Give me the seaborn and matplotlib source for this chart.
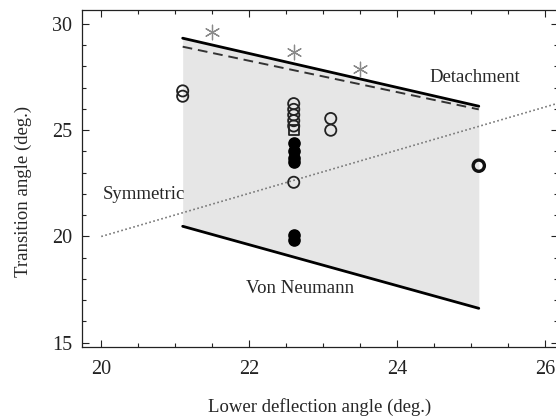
import matplotlib
matplotlib.use("Agg")
import matplotlib.pyplot as plt
import seaborn as sns
import numpy as np
import pandas as pd
from matplotlib.ticker import MultipleLocator

sns.set_theme(style="ticks")
plt.rcParams['font.family'] = ['Liberation Serif', 'DejaVu Serif']

# Boundary lines (x endpoints, y endpoints)
region_x = [21.1, 25.1]
detach_y = [29.33, 26.13]
detach_dash_y = [28.93, 25.98]
vonneumann_y = [20.48, 16.62]
sym_x = [20.0, 26.2]
sym_y = [20.0, 26.3]

# Star (asterisk) points
star_x = [21.5, 22.6, 23.5]
star_y = [29.6, 28.66, 27.86]

# Open circles
open_x = [21.1, 21.1, 22.6, 22.6, 22.6, 22.6, 22.6, 22.6, 23.1, 23.1]
open_y = [26.85, 26.6, 26.25, 25.98, 25.72, 25.45, 25.2, 22.55, 25.55, 25.0]
# Open square
sq_x = [22.6]
sq_y = [25.02]
# Bold open circle
bold_x = [25.1]
bold_y = [23.33]
# Filled circles
fill_x = [22.6, 22.6, 22.6, 22.6, 22.6, 22.6]
fill_y = [24.4, 24.0, 23.7, 23.5, 20.05, 19.82]

fig = plt.figure(figsize=(5.56, 4.16), dpi=100)
ax = fig.add_axes([82/556, 69/416, 476/556, 337.5/416])

ax.fill_between(region_x, vonneumann_y, detach_y, color="#e6e6e6", linewidth=0, zorder=0)

sns.lineplot(x=region_x, y=detach_y, ax=ax, color="black", linewidth=2.0, zorder=2)
sns.lineplot(x=region_x, y=detach_dash_y, ax=ax, color="#333333", linewidth=1.4,
             linestyle=(0, (5, 3)), zorder=2)
sns.lineplot(x=region_x, y=vonneumann_y, ax=ax, color="black", linewidth=2.0, zorder=2)
sns.lineplot(x=sym_x, y=sym_y, ax=ax, color="#777777", linewidth=1.2,
             linestyle=(0, (1, 1.5)), zorder=1)

sns.scatterplot(x=star_x, y=star_y, ax=ax, marker=(6, 2, 0), s=110,
                color="#8a8a8a", edgecolor="#8a8a8a", linewidth=0.9, zorder=3)
sns.scatterplot(x=open_x, y=open_y, ax=ax, marker="o", s=65,
                facecolor="none", edgecolor="#222222", linewidth=1.3, zorder=3)
sns.scatterplot(x=sq_x, y=sq_y, ax=ax, marker="s", s=55,
                facecolor="none", edgecolor="#222222", linewidth=1.3, zorder=3)
sns.scatterplot(x=bold_x, y=bold_y, ax=ax, marker="o", s=65,
                facecolor="none", edgecolor="#111111", linewidth=2.4, zorder=3)
sns.scatterplot(x=fill_x, y=fill_y, ax=ax, marker="o", s=65,
                color="black", edgecolor="black", linewidth=1.0, zorder=4)

fs = 13.5
ax.text(25.05, 27.5, "Detachment", ha="center", va="center", fontsize=fs)
ax.text(20.57, 21.97, "Symmetric", ha="center", va="center", fontsize=fs)
ax.text(22.69, 17.53, "Von Neumann", ha="center", va="center", fontsize=fs)

ax.set_xlim(19.74, 26.17)
ax.set_ylim(14.8, 30.68)
ax.xaxis.set_major_locator(MultipleLocator(2))
ax.xaxis.set_minor_locator(MultipleLocator(0.5))
ax.yaxis.set_major_locator(MultipleLocator(5))
ax.yaxis.set_minor_locator(MultipleLocator(1))
ax.tick_params(which="both", direction="in", top=True, right=True, labelsize=14.5, colors="#222222")
ax.tick_params(which="major", length=5, width=0.8)
ax.tick_params(which="minor", length=3, width=0.8)
ax.tick_params(axis="x", which="major", pad=9)
ax.tick_params(axis="y", which="major", pad=7)
for sp in ax.spines.values():
    sp.set_linewidth(0.9)
    sp.set_color("#222222")

ax.set_xlabel("Lower deflection angle (deg.)", fontsize=fs, labelpad=14)
ax.set_ylabel("Transition angle (deg.)", fontsize=fs)
ax.yaxis.set_label_coords(-0.105, 0.46)

fig.savefig("out.png", dpi=100)
